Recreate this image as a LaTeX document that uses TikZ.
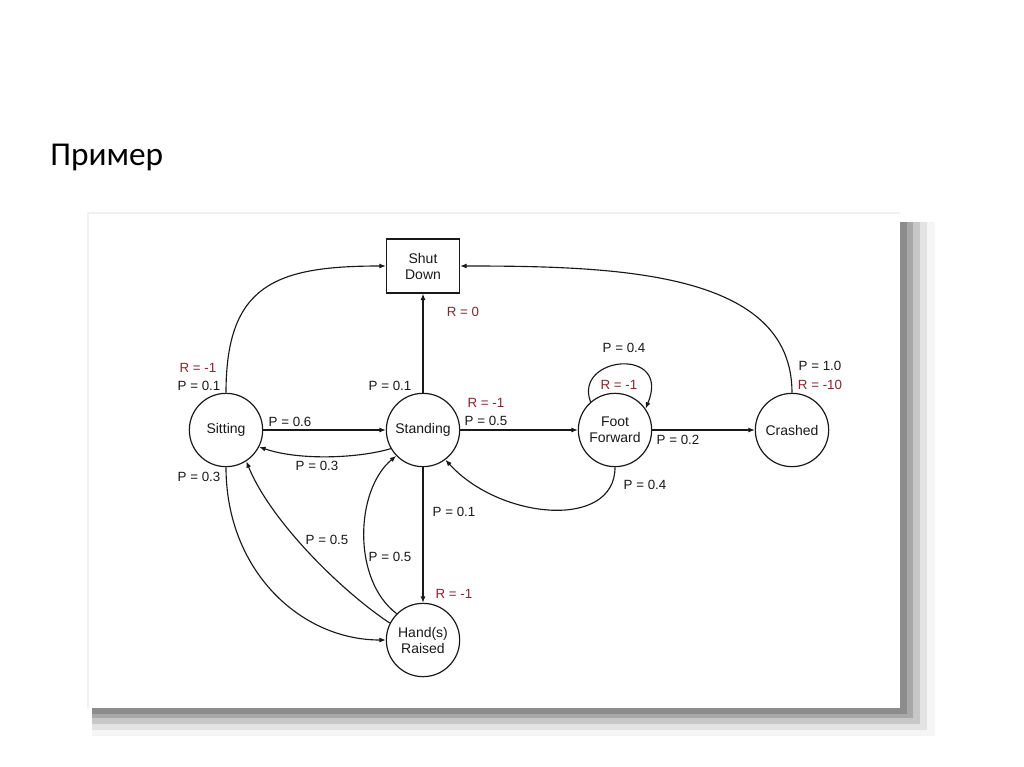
\documentclass[tikz,border=0pt]{standalone}
\usepackage{fontspec}
\setmainfont{Liberation Sans}
\newfontfamily\slidefont{Carlito}
\usetikzlibrary{arrows.meta}
\definecolor{ink}{RGB}{25,25,25}
\definecolor{reward}{RGB}{140,35,45}
\tikzset{
  >={Latex[length=4.8pt,width=3.8pt]},
  mdpstate/.style={circle,draw=ink,line width=0.9pt,minimum size=55pt,inner sep=0pt,
    align=center,text=ink,font=\fontsize{10.5}{12}\selectfont},
  terminal/.style={rectangle,draw=ink,line width=0.9pt,minimum width=55pt,minimum height=40.5pt,
    inner sep=0pt,align=center,text=ink,font=\fontsize{10.5}{12}\selectfont},
  move/.style={->,line width=0.85pt,draw=ink},
  prob/.style={inner sep=0pt,text=ink,font=\fontsize{10}{12}\selectfont},
  rew/.style={prob,text=reward},
}

\begin{document}
\begin{tikzpicture}[x=0.75pt,y=-0.75pt]
  \useasboundingbox (0,0) rectangle (1024,767);
  \fill[white] (0,0) rectangle (1024,767);
  \node[anchor=base west,inner sep=0pt,font=\slidefont\fontsize{25}{30}\selectfont] (title) at (50,165) {Пример};
  % picture frame with shadow
  \foreach \d/\c in {35/4,27/11,20/22,13/34,7/45}
    \fill[black!\c] (92,222) rectangle (900+\d,708+0.8*\d);
  \fill[white] (88,213) rectangle (900,708);
  \draw[black!6,line width=1.5pt] (88,708) -- (88,213) -- (900,213);

  \node[terminal] (sd) at (423,266) {Shut\\Down};
  \node[mdpstate] (sit) at (226,430) {Sitting};
  \node[mdpstate] (stand) at (423,430) {Standing};
  \node[mdpstate] (ff) at (615,430) {Foot\\Forward};
  \node[mdpstate] (crash) at (792,430) {Crashed};
  \node[mdpstate] (hands) at (423,640) {Hand(s)\\Raised};

  \draw[move] (sit.north) .. controls (226,285) and (275,266) .. (sd.west);
  \draw[move] (stand.north) -- (sd.south);
  \draw[move] (crash.north) .. controls (792,272) and (620,266) .. (sd.east);
  \draw[move] (sit.east) -- (stand.west);
  \draw[move] (stand.210) .. controls (360,458) and (300,461) .. (sit.-27);
  \draw[move] (stand.east) -- (ff.west);
  \draw[move] (ff.131) .. controls (573,356) and (672,346) .. (ff.35);
  \draw[move] (ff.east) -- (crash.west);
  \draw[move] (ff.south) .. controls (615,530) and (500,520) .. (stand.-53);
  \draw[move] (stand.south) -- (hands.north);
  \draw[move] (sit.south) .. controls (226,570) and (300,640) .. (hands.west);
  \draw[move] (hands.153) .. controls (340,590) and (270,520) .. (sit.-57);
  \draw[move] (hands.135) .. controls (352,580) and (355,490) .. (stand.224);

  \node[rew] (r1) at (198,368) {R = -1};
  \node[prob] (p1) at (199,386) {P = 0.1};
  \node[prob] (p2) at (390,386) {P = 0.1};
  \node[rew] (r2) at (463,312) {R = 0};
  \node[prob] (p3) at (290,422) {P = 0.6};
  \node[rew] (r3) at (486,403) {R = -1};
  \node[prob] (p4) at (486,421) {P = 0.5};
  \node[prob] (p5) at (624,348) {P = 0.4};
  \node[rew] (r4) at (619,385) {R = -1};
  \node[prob] (p6) at (678,440) {P = 0.2};
  \node[prob] (p7) at (645,485) {P = 0.4};
  \node[prob] (p8) at (820,366) {P = 1.0};
  \node[rew] (r5) at (820,385) {R = -10};
  \node[prob] (p9) at (317,466) {P = 0.3};
  \node[prob] (p10) at (199,477) {P = 0.3};
  \node[prob] (p11) at (454,512) {P = 0.1};
  \node[prob] (p12) at (327,540) {P = 0.5};
  \node[prob] (p13) at (390,557) {P = 0.5};
  \node[rew] (r6) at (454,594) {R = -1};
\end{tikzpicture}
\end{document}
